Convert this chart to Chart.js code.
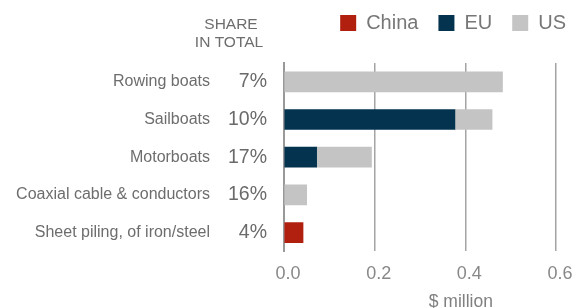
<!DOCTYPE html>
<html>
<head>
<meta charset="utf-8">
<script src="https://cdn.jsdelivr.net/npm/chart.js@4.4.1/dist/chart.umd.min.js"></script>
<style>
  html, body { margin: 0; padding: 0; background: #fff; }
  #wrap { width: 574px; height: 308px; position: relative; }
</style>
</head>
<body>
<div id="wrap"><canvas id="chart"></canvas></div>
<script>
// categories and values ($ million)
const products = ['Rowing boats', 'Sailboats', 'Motorboats', 'Coaxial cable & conductors', 'Sheet piling, of iron/steel'];
const shares = ['7%', '10%', '17%', '16%', '4%'];
const china = [null, null, null, null, 0.042];
const eu = [null, 0.377, 0.072, null, null];
const us = [0.482, 0.082, 0.121, 0.05, null];
const xTicks = [0, 0.2, 0.4, 0.6];

const FONT = "'Liberation Sans', Arial, sans-serif";

// header above the share column, axis unit, and legend nudge
const extraText = {
    id: 'extraText',
    afterLayout(chart) {
        // move legend a bit: right and up
        const lg = chart.legend;
        lg.left += 12; lg.right += 12;
        lg.top -= 20; lg.bottom -= 20;
    },
    afterDraw(chart) {
        const ctx = chart.ctx;
        const xs = chart.scales.x;
        ctx.save();
        ctx.fillStyle = '#6d6d6d';
        ctx.font = '15.5px ' + FONT;
        ctx.textAlign = 'center';
        ctx.textBaseline = 'middle';
        ctx.fillText('SHARE', 231, 25);
        ctx.fillText('IN TOTAL', 229, 43);
        ctx.font = '17.5px ' + FONT;
        ctx.fillStyle = '#808080';
        ctx.fillText('$ million', xs.getPixelForValue(0.39), 302);
        ctx.restore();
    }
};

new Chart(document.getElementById('chart'), {
    type: 'bar',
    data: {
        labels: products,
        datasets: [
            { label: 'China', data: china, backgroundColor: '#b1200f' },
            { label: 'EU', data: eu, backgroundColor: '#03334f' },
            { label: 'US', data: us, backgroundColor: '#c4c4c4' }
        ]
    },
    options: {
        indexAxis: 'y',
        responsive: true,
        maintainAspectRatio: false,
        animation: false,
        layout: { padding: { top: 13, right: 0, bottom: 11, left: 0 } },
        datasets: { bar: { barThickness: 20, borderWidth: 0 } },
        scales: {
            x: {
                stacked: true,
                min: 0,
                max: 0.6,
                afterBuildTicks: scale => { scale.ticks = xTicks.map(v => ({ value: v })); },
                afterFit: scale => { scale.paddingRight = 18; },
                grid: { color: '#a4a4a4', lineWidth: 1.5, drawTicks: false },
                border: { display: false },
                ticks: {
                    padding: 12,
                    labelOffset: 4,
                    color: '#888',
                    font: { family: FONT, size: 18 },
                    callback: v => v.toFixed(1)
                }
            },
            y: {
                stacked: true,
                weight: 2,
                grid: { display: false, drawTicks: false },
                border: { display: false },
                ticks: { padding: 12, color: '#6d6d6d', font: { family: FONT, size: 16 } },
                afterFit: scale => { scale.width = 222; }
            },
            share: {
                type: 'category',
                position: 'left',
                weight: 1,
                labels: shares,
                offset: true,
                grid: { display: false, drawTicks: false },
                border: { display: true, color: '#999', width: 2 },
                ticks: { padding: 17, color: '#6a6a6a', font: { family: FONT, size: 19.5 } },
                afterFit: scale => { scale.width = 62; }
            }
        },
        plugins: {
            legend: {
                position: 'top',
                align: 'end',
                labels: {
                    boxWidth: 16,
                    boxHeight: 16,
                    padding: 20,
                    color: '#777',
                    font: { family: FONT, size: 20 }
                }
            },
            tooltip: { enabled: false }
        }
    },
    plugins: [extraText]
});
</script>
</body>
</html>
